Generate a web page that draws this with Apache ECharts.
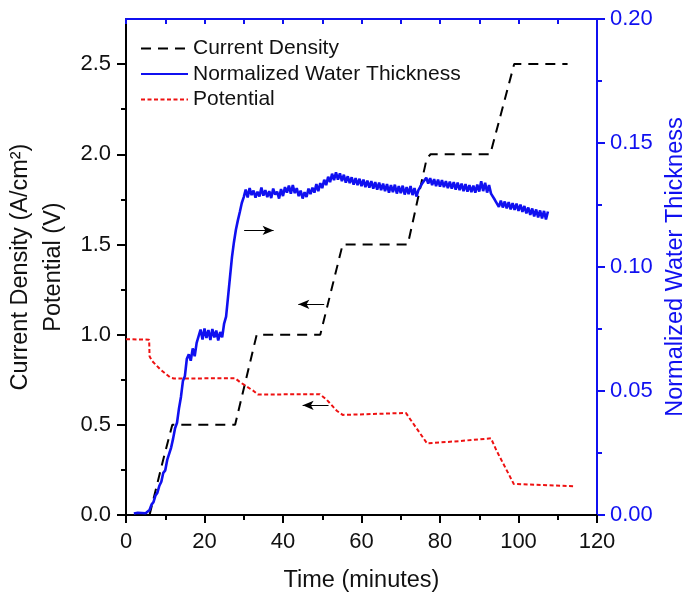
<!DOCTYPE html>
<html>
<head>
<meta charset="utf-8">
<script src="https://cdn.jsdelivr.net/npm/echarts@6/dist/echarts.min.js"></script>
<style>
html,body{margin:0;padding:0;background:#fff;}
#chart{width:684px;height:592px;}
</style>
</head>
<body>
<div id="chart"></div>
<script>
// ---- data ----
var seriesNames = ['Current Density', 'Normalized Water Thickness', 'Potential'];

// Current density (A/cm^2) vs time (min)
var currentTime  = [6, 9.4, 11.8, 27.8, 33.3, 49.5, 55.2, 71.8, 76.6, 77.6, 92.8, 98.9, 112.5];
var currentValue = [0, 0.30, 0.5, 0.5, 1.0, 1.0, 1.5, 1.5, 1.975, 2.0, 2.0, 2.5, 2.5];

// Potential (V) vs time (min)
var potentialTime  = [0, 5.9, 6.0, 6.6, 8.7, 11.3, 12.2, 27.8, 29.1, 32.5, 33.6, 49.4, 51.1, 53.7, 55.2, 63, 71.3, 76.7, 85, 93, 94.4, 98.8, 106, 114];
var potentialValue = [0.975, 0.972, 0.88, 0.855, 0.808, 0.762, 0.757, 0.758, 0.736, 0.688, 0.668, 0.67, 0.64, 0.578, 0.555, 0.56, 0.566, 0.397, 0.41, 0.425, 0.357, 0.172, 0.166, 0.16];

// Normalized water thickness vs time (min)
var waterTime = [
2.0,2.5,3.0,3.5,4.0,4.5,5.0,5.5,6.0,6.5,7.0,7.5,8.0,8.5,9.0,9.5,10.0,10.5,11.0,11.5,
12.0,12.5,13.0,13.5,14.0,14.5,15.0,15.5,16.0,16.5,17.0,17.5,18.0,18.5,19.0,19.5,20.0,20.5,21.0,21.5,
22.0,22.5,23.0,23.5,24.0,24.5,25.0,25.5,26.0,26.5,27.0,27.5,28.0,28.5,29.0,29.5,30.0,30.5,31.0,31.5,
32.0,32.5,33.0,33.5,34.0,34.5,35.0,35.5,36.0,36.5,37.0,37.5,38.0,38.5,39.0,39.5,40.0,40.5,41.0,41.5,
42.0,42.5,43.0,43.5,44.0,44.5,45.0,45.5,46.0,46.5,47.0,47.5,48.0,48.5,49.0,49.5,50.0,50.5,51.0,51.5,
52.0,52.5,53.0,53.5,54.0,54.5,55.0,55.5,56.0,56.5,57.0,57.5,58.0,58.5,59.0,59.5,60.0,60.5,61.0,61.5,
62.0,62.5,63.0,63.5,64.0,64.5,65.0,65.5,66.0,66.5,67.0,67.5,68.0,68.5,69.0,69.5,70.0,70.5,71.0,71.5,
72.0,72.5,73.0,73.5,74.0,74.5,75.0,75.5,76.0,76.5,77.0,77.5,78.0,78.5,79.0,79.5,80.0,80.5,81.0,81.5,
82.0,82.5,83.0,83.5,84.0,84.5,85.0,85.5,86.0,86.5,87.0,87.5,88.0,88.5,89.0,89.5,90.0,90.5,91.0,91.5,
92.0,92.5,93.0,93.5,94.0,94.5,95.0,95.5,96.0,96.5,97.0,97.5,98.0,98.5,99.0,99.5,100.0,100.5,101.0,101.5,
102.0,102.5,103.0,103.5,104.0,104.5,105.0,105.5,106.0,106.5,107.0,107.5
];
var waterValue = [
0.0006,0.0002,0.0009,0.0003,0.0008,0.0002,0.0007,0.0009,0.0020,0.0042,0.0052,0.0078,0.0090,0.0118,0.0134,0.0170,0.0180,0.0222,0.0228,0.0272,
0.0308,0.0350,0.0372,0.0430,0.0476,0.0540,0.0560,0.0630,0.0648,0.0622,0.0672,0.0640,0.0694,0.0702,0.0748,0.0708,0.0752,0.0714,0.0746,0.0706,
0.0750,0.0716,0.0744,0.0704,0.0738,0.0716,0.0772,0.0800,0.0880,0.0960,0.1040,0.1100,0.1150,0.1188,0.1222,0.1258,0.1282,0.1312,0.1280,0.1318,
0.1290,0.1308,0.1280,0.1304,0.1284,0.1320,0.1288,0.1310,0.1282,0.1306,0.1278,0.1316,0.1292,0.1304,0.1276,0.1314,0.1286,0.1322,0.1300,0.1328,
0.1296,0.1330,0.1298,0.1318,0.1286,0.1308,0.1276,0.1302,0.1282,0.1316,0.1294,0.1320,0.1300,0.1334,0.1306,0.1338,0.1318,0.1352,0.1330,0.1364,
0.1342,0.1376,0.1350,0.1382,0.1352,0.1378,0.1346,0.1372,0.1340,0.1366,0.1338,0.1362,0.1332,0.1358,0.1330,0.1356,0.1326,0.1352,0.1322,0.1348,
0.1320,0.1346,0.1316,0.1342,0.1312,0.1340,0.1310,0.1336,0.1306,0.1334,0.1300,0.1330,0.1302,0.1332,0.1296,0.1326,0.1298,0.1328,0.1292,0.1322,
0.1294,0.1326,0.1290,0.1318,0.1284,0.1310,0.1306,0.1338,0.1332,0.1360,0.1336,0.1358,0.1330,0.1354,0.1326,0.1352,0.1324,0.1350,0.1322,0.1346,
0.1318,0.1344,0.1316,0.1342,0.1312,0.1340,0.1310,0.1336,0.1306,0.1334,0.1304,0.1330,0.1302,0.1328,0.1300,0.1332,0.1304,0.1346,0.1306,0.1340,
0.1300,0.1330,0.1296,0.1298,0.1270,0.1272,0.1242,0.1268,0.1240,0.1264,0.1236,0.1262,0.1232,0.1258,0.1230,0.1256,0.1226,0.1252,0.1222,0.1246,
0.1216,0.1240,0.1210,0.1236,0.1204,0.1232,0.1200,0.1228,0.1196,0.1226,0.1192,0.1224
];

// annotation arrows: [fromTime, toTime, leftAxisValue]
var arrowFromTime = [30.1, 50.5, 51.6];
var arrowToTime   = [37.6, 43.9, 45.0];
var arrowLevel    = [1.578, 1.168, 0.608];

// axis ticks
var leftMajorTicks  = [0, 0.5, 1.0, 1.5, 2.0, 2.5];
var leftMinorTicks  = [0.25, 0.75, 1.25, 1.75, 2.25];

// ---- build ----
function zip(a, b) { var out = []; for (var i = 0; i < a.length; i++) out.push([a[i], b[i]]); return out; }
var arrows = [];
for (var i = 0; i < arrowLevel.length; i++) {
  arrows.push([{ coord: [arrowFromTime[i], arrowLevel[i]] }, { coord: [arrowToTime[i], arrowLevel[i]] }]);
}

var FONT = '"Liberation Sans", Arial, sans-serif';
var BLUE = '#1010f0';

var chart = echarts.init(document.getElementById('chart'), null, { renderer: 'canvas' });
chart.setOption({
  animation: false,
  backgroundColor: '#ffffff',
  textStyle: { fontFamily: FONT },
  grid: { left: 126, right: 87, top: 19, bottom: 77, containLabel: false, outerBoundsMode: 'none' },
  legend: {
    orient: 'vertical',
    left: 135,
    top: 33,
    itemWidth: 47,
    itemHeight: 14,
    itemGap: 4.5,
    itemStyle: { opacity: 0 },
    textStyle: { fontSize: 21, color: '#111', fontFamily: FONT, lineHeight: 21 },
    data: seriesNames
  },
  xAxis: [
    {
      type: 'value', position: 'bottom', min: 0, max: 120, interval: 20,
      name: 'Time (minutes)', nameLocation: 'middle', nameGap: 54,
      nameTextStyle: { fontSize: 23.5, color: '#111', fontFamily: FONT },
      axisLine: { onZero: false, lineStyle: { color: '#000', width: 2 } },
      axisTick: { show: true, inside: false, length: 8, lineStyle: { color: '#000', width: 2 } },
      minorTick: { show: true, splitNumber: 2, length: 5, lineStyle: { color: '#000', width: 2 } },
      axisLabel: { fontSize: 22, color: '#111', margin: 16, fontFamily: FONT },
      splitLine: { show: false }
    },
    {
      type: 'value', position: 'top', min: 0, max: 120, interval: 10,
      axisLine: { onZero: false, lineStyle: { color: BLUE, width: 2 } },
      axisTick: { show: true, inside: true, length: 5, lineStyle: { color: BLUE, width: 2 } },
      axisLabel: { show: false },
      splitLine: { show: false }
    }
  ],
  yAxis: [
    {
      type: 'value', position: 'left', min: 0, max: 2.75, interval: 0.5,
      name: 'Current Density (A/cm²)\nPotential (V)', nameLocation: 'middle', nameGap: 35,
      nameTextStyle: { fontSize: 23.5, color: '#111', lineHeight: 33, fontFamily: FONT },
      axisLine: { onZero: false, lineStyle: { color: '#000', width: 2 } },
      axisTick: { show: true, length: 9, customValues: leftMajorTicks, lineStyle: { color: '#000', width: 2 } },
      axisLabel: { fontSize: 22, color: '#111', margin: 15, customValues: leftMajorTicks, fontFamily: FONT,
        formatter: function (v) { return v.toFixed(1); } },
      splitLine: { show: false }
    },
    {
      type: 'value', position: 'right', min: 0, max: 0.2, interval: 0.05,
      name: 'Normalized Water Thickness', nameLocation: 'middle', nameGap: 67, nameRotate: 90,
      nameTextStyle: { fontSize: 23.5, color: BLUE, fontFamily: FONT },
      axisLine: { onZero: false, lineStyle: { color: BLUE, width: 2 } },
      axisTick: { show: true, length: 8, lineStyle: { color: BLUE, width: 2 } },
      minorTick: { show: true, splitNumber: 2, length: 5, lineStyle: { color: BLUE, width: 2 } },
      axisLabel: { fontSize: 22, color: BLUE, margin: 13, fontFamily: FONT,
        formatter: function (v) { return v.toFixed(2); } },
      splitLine: { show: false }
    },
    {
      type: 'value', position: 'left', min: 0, max: 2.75, interval: 0.25,
      axisLine: { show: false, onZero: false },
      axisTick: { show: true, length: 5, customValues: leftMinorTicks, lineStyle: { color: '#000', width: 2 } },
      axisLabel: { show: false },
      splitLine: { show: false }
    }
  ],
  series: [
    {
      name: seriesNames[0], type: 'line', xAxisIndex: 0, yAxisIndex: 0, z: 3,
      data: zip(currentTime, currentValue), symbol: 'none', showSymbol: false,
      itemStyle: { color: '#000' },
      lineStyle: { color: '#000', width: 2, type: [10, 7] },
      markLine: {
        silent: true, symbol: ['none', 'arrow'], symbolSize: [7, 11],
        label: { show: false },
        lineStyle: { color: '#000', width: 1, type: 'solid' },
        data: arrows
      }
    },
    {
      name: seriesNames[1], type: 'line', xAxisIndex: 0, yAxisIndex: 1, z: 5,
      data: zip(waterTime, waterValue), symbol: 'none', showSymbol: false,
      itemStyle: { color: BLUE },
      lineStyle: { color: BLUE, width: 2.6 }
    },
    {
      name: seriesNames[2], type: 'line', xAxisIndex: 0, yAxisIndex: 0, z: 4,
      data: zip(potentialTime, potentialValue), symbol: 'none', showSymbol: false,
      itemStyle: { color: '#ee1111' },
      lineStyle: { color: '#ee1111', width: 2, type: [4, 2.5] }
    }
  ]
});
</script>
</body>
</html>
